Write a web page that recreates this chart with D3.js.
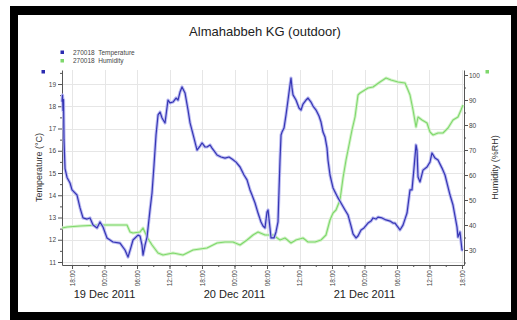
<!DOCTYPE html>
<html><head><meta charset="utf-8">
<script src="https://cdn.jsdelivr.net/npm/d3@7"></script>
<style>html,body{margin:0;padding:0;background:#fff;} svg{display:block;font-family:Arial,"Liberation Sans",sans-serif;}</style>
</head><body><svg id="c" width="517" height="320"></svg>
<script>
const chartTitle = "Almahabbeh KG (outdoor)";
const seriesNames = ["270018  Temperature", "270018  Humidity"];
const axisTitles = ["Temperature (\u00B0C)", "Humidity (%RH)"];
// hours since 18 Dec 2011 00:00
const tempHours = [16.15,16.25,16.34,16.43,16.52,16.71,17.08,17.63,18.00,18.92,19.48,20.03,20.77,21.32,21.88,22.62,23.17,23.72,24.46,25.57,26.86,27.78,28.34,28.89,29.26,30.18,30.55,30.92,31.11,31.48,31.85,32.40,32.77,33.14,33.51,33.88,34.25,34.62,35.17,35.72,36.09,36.65,37.20,37.57,37.94,38.31,38.86,39.42,39.79,40.52,41.08,41.63,42.00,42.55,42.92,43.48,43.85,44.40,44.77,45.51,46.25,46.98,47.54,48.28,49.02,49.75,50.31,50.86,51.23,51.79,52.34,52.89,53.26,53.63,54.00,54.19,54.55,54.74,55.29,55.66,56.03,56.22,56.40,56.59,56.77,57.14,57.51,57.88,58.25,58.43,58.62,58.80,59.35,59.91,60.28,60.65,61.20,61.57,62.12,62.49,63.05,63.60,63.97,64.34,64.71,65.08,65.26,65.63,66.19,66.74,67.11,67.66,68.40,68.96,69.51,69.88,70.43,70.80,71.36,71.91,72.65,73.20,73.57,74.12,74.49,75.23,75.97,76.71,77.26,77.63,78.55,79.11,79.85,80.40,80.77,81.14,81.51,81.69,81.88,82.25,82.80,83.54,84.09,84.46,85.02,85.57,86.31,86.86,87.79,88.34,89.08,89.26,89.63,90.00,90.18];
const tempValues = [18.2,18.5,17.8,18.3,16.5,15.2,14.8,14.55,14.24,14.01,13.43,12.98,12.93,12.98,12.66,12.53,12.80,12.57,12.08,11.90,11.85,11.54,11.22,11.67,11.99,12.21,12.17,11.76,11.31,11.76,12.12,13.34,14.10,15.36,16.71,17.61,17.74,17.47,17.25,18.28,18.15,18.19,18.37,18.28,18.64,18.87,18.60,17.83,17.25,16.57,16.03,16.21,16.35,16.17,16.17,16.26,16.12,15.94,15.81,15.72,15.67,15.72,15.63,15.49,15.27,14.91,14.69,14.24,14.01,13.65,13.20,12.80,12.62,12.53,13.25,13.34,12.53,12.08,12.08,12.35,12.80,14.24,15.58,16.71,16.84,17.02,17.61,18.28,18.96,19.27,18.82,18.51,18.28,17.92,17.83,18.10,18.28,18.37,18.19,18.01,17.83,17.56,17.29,16.84,16.62,16.12,15.58,14.91,14.33,14.06,13.88,13.65,13.34,13.11,12.62,12.26,12.08,12.17,12.44,12.53,12.75,12.84,12.98,12.93,13.02,12.98,12.89,12.84,12.75,12.75,12.44,12.66,13.20,14.24,14.24,15.22,16.26,16.03,14.82,14.60,15.13,15.27,15.49,15.90,15.67,15.58,15.22,14.91,14.01,13.56,12.57,12.12,12.35,11.54,11.54];
const humHours = [16.15,17.08,19.48,23.17,25.02,28.15,28.71,29.26,30.55,31.11,31.85,32.77,33.88,34.80,36.65,38.49,40.34,42.92,44.77,46.25,47.72,49.02,50.31,51.42,52.34,53.63,55.11,56.40,57.32,58.43,59.35,60.65,61.57,62.86,63.97,64.89,65.63,66.19,66.74,67.48,68.03,68.59,68.96,69.69,70.25,70.80,71.17,72.65,73.57,74.86,75.97,76.89,78.19,79.48,80.03,80.40,80.96,81.51,81.88,82.62,83.54,84.09,84.65,85.57,86.49,87.42,88.34,89.26,89.82,90.18];
const humValues = [38.8,39.2,39.6,40.0,40.0,40.0,37.2,36.8,37.2,38.8,35.2,32.0,28.8,28.0,28.8,28.0,30.0,30.8,32.8,33.2,33.2,32.0,34.0,36.0,37.2,36.0,36.0,34.0,34.8,32.8,34.0,34.8,33.2,33.2,34.0,36.0,42.0,44.8,46.0,50.0,58.8,66.0,70.0,78.0,83.2,92.0,92.8,94.8,95.2,97.2,98.8,98.0,97.2,96.8,94.0,92.0,86.0,79.2,83.2,82.0,80.8,77.2,76.0,76.8,76.8,78.8,82.0,83.2,86.0,88.0];
const tempTicks = [11,12,13,14,15,16,17,18,19];
const humTicks = [30,40,50,60,70,80,90,100];
const dateDays = [19,20,21];
const dateLabels = ["19 Dec 2011","20 Dec 2011","21 Dec 2011"];

const base = new Date(2011, 11, 18);
const toDate = h => new Date(base.getTime() + h * 3600000);
const svg = d3.select("#c");

// frame
svg.append("rect").attr("x",10).attr("y",6).attr("width",507).attr("height",314).attr("fill","#000");
svg.append("rect").attr("x",18).attr("y",15).attr("width",493).attr("height",297).attr("fill","#fff");

const L = 62, R = 464, T = 70, B = 265;
const x = d3.scaleTime().domain([toDate(16.15), toDate(90.37)]).range([L, R]);
const yT = d3.scaleLinear().domain([10.865, 19.63]).range([B, T]);
const yH = d3.scaleLinear().domain([24, 102]).range([B, T]);

const majors = x.ticks(d3.timeHour.every(6));
const minors = x.ticks(d3.timeHour.every(3));

// grid
const grid = svg.append("g").attr("stroke","#e6e6e6").attr("stroke-width",1);
grid.selectAll("line.v").data(majors).join("line").attr("class","v")
  .attr("x1",d=>Math.round(x(d))+0.5).attr("x2",d=>Math.round(x(d))+0.5).attr("y1",T).attr("y2",B);
grid.selectAll("line.h").data(tempTicks).join("line").attr("class","h")
  .attr("x1",L).attr("x2",R).attr("y1",d=>Math.round(yT(d))+0.5).attr("y2",d=>Math.round(yT(d))+0.5);

function styleAxis(g){
  g.select(".domain").attr("stroke","#555");
  g.selectAll(".tick line").attr("stroke","#555");
  g.selectAll("text").attr("fill","#444").attr("font-size","6.5px").attr("font-family","Arial, Liberation Sans, sans-serif");
}

// left axis
const gl = svg.append("g").attr("transform",`translate(${L},0)`)
  .call(d3.axisLeft(yT).tickValues(tempTicks).tickSize(4).tickSizeOuter(0).tickFormat(d3.format("d")).tickPadding(2));
styleAxis(gl);
const glm = svg.append("g").attr("transform",`translate(${L},0)`)
  .call(d3.axisLeft(yT).tickValues(d3.range(11.5,19.6,1)).tickSize(2).tickSizeOuter(0).tickFormat(""));
styleAxis(glm); glm.select(".domain").remove();

// right axis
const gr = svg.append("g").attr("transform",`translate(${R},0)`)
  .call(d3.axisRight(yH).tickValues(humTicks).tickSize(4).tickSizeOuter(0).tickFormat(d3.format("d")).tickPadding(1));
styleAxis(gr);
const grm = svg.append("g").attr("transform",`translate(${R},0)`)
  .call(d3.axisRight(yH).tickValues(d3.range(25,101,10)).tickSize(2).tickSizeOuter(0).tickFormat(""));
styleAxis(grm); grm.select(".domain").remove();

// bottom axis
const gb = svg.append("g").attr("transform",`translate(0,${B})`)
  .call(d3.axisBottom(x).tickValues(majors).tickSize(4).tickSizeOuter(0).tickFormat(d3.timeFormat("%H:%M")));
styleAxis(gb);
gb.selectAll("text").attr("transform","rotate(-90)").attr("text-anchor","end")
  .attr("x",-5).attr("y",0).attr("dy","0.32em");
const gbm = svg.append("g").attr("transform",`translate(0,${B})`)
  .call(d3.axisBottom(x).tickValues(minors).tickSize(2).tickSizeOuter(0).tickFormat(""));
styleAxis(gbm); gbm.select(".domain").remove();

// date labels
svg.append("g").selectAll("text").data(dateDays).join("text")
  .attr("x",(d)=>x(new Date(2011,11,d))).attr("y",298).attr("text-anchor","middle")
  .attr("font-size","11px").attr("fill","#222").text((d,i)=>dateLabels[i]);

// lines
const tempData = tempHours.map((h,i)=>({t:toDate(h), v:tempValues[i]}));
const humData = humHours.map((h,i)=>({t:toDate(h), v:humValues[i]}));
const lineT = d3.line().x(d=>x(d.t)).y(d=>yT(d.v));
const lineH = d3.line().x(d=>x(d.t)).y(d=>yH(d.v));
const plot = svg.append("g");
plot.append("path").datum(humData).attr("d",lineH).attr("fill","none").attr("stroke","#d2f2c8").attr("stroke-width",3).attr("stroke-linejoin","round");
plot.append("path").datum(humData).attr("d",lineH).attr("fill","none").attr("stroke","#7fd86c").attr("stroke-width",1.1).attr("stroke-linejoin","round");
plot.append("path").datum(tempData).attr("d",lineT).attr("fill","none").attr("stroke","#bcbcf2").attr("stroke-width",3.2).attr("stroke-linejoin","round");
plot.append("path").datum(tempData).attr("d",lineT).attr("fill","none").attr("stroke","#3636b4").attr("stroke-width",1.2).attr("stroke-linejoin","round");

// title
svg.append("text").attr("x",265).attr("y",36).attr("text-anchor","middle").attr("font-size","13px").attr("fill","#222").text(chartTitle);

// legend
const colors = ["#2b2bb0","#7fd86c"];
const lg = svg.append("g");
lg.selectAll("rect").data(seriesNames).join("rect").attr("x",60.5).attr("y",(d,i)=>50.5+i*8.5).attr("width",3.5).attr("height",3.5).attr("fill",(d,i)=>colors[i]);
lg.selectAll("text").data(seriesNames).join("text").attr("x",73).attr("y",(d,i)=>54.5+i*8.5)
  .attr("font-size","6.5px").attr("fill","#444").attr("xml:space","preserve").style("white-space","pre").text(d=>d);

// axis end markers
svg.append("rect").attr("x",41.5).attr("y",70).attr("width",3.5).attr("height",3.5).attr("fill",colors[0]);
svg.append("rect").attr("x",485.5).attr("y",70).attr("width",3.5).attr("height",3.5).attr("fill",colors[1]);

// axis titles
svg.append("text").attr("transform",`translate(42,${(T+B)/2}) rotate(-90)`).attr("text-anchor","middle")
  .attr("font-size","9px").attr("fill","#333").text(axisTitles[0]);
svg.append("text").attr("transform",`translate(498,${(T+B)/2}) rotate(-90)`).attr("text-anchor","middle")
  .attr("font-size","9px").attr("fill","#333").text(axisTitles[1]);
</script></body></html>
